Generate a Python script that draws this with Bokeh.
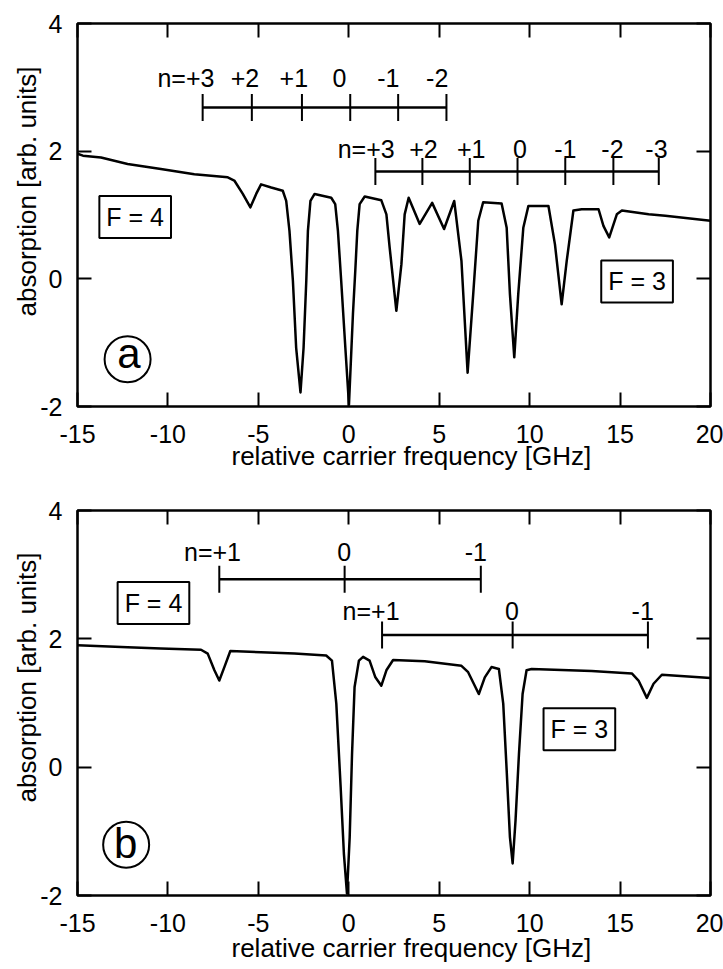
import math
from bokeh.plotting import figure
from bokeh.models import Range1d, LinearAxis, FixedTicker, Label, Title
from bokeh.layouts import column
from bokeh.embed import file_html
from bokeh.resources import INLINE
from bokeh.core.properties import value

FONT = "Liberation Sans"

# ---------------- data: panel (a) ----------------
freq_a = [-15.0, -14.7, -13.7, -12.23, -10.39, -8.54, -6.69, -6.33, -5.86, -5.44,
          -5.12, -4.85, -4.29, -3.65, -3.46, -3.28, -3.09, -2.91, -2.67, -2.50,
          -2.35, -2.26, -2.12, -1.89, -0.97, -0.75, -0.60, -0.42, -0.19, 0.01,
          0.23, 0.36, 0.47, 0.60, 0.88, 1.80, 2.08, 2.26, 2.63, 2.91,
          3.09, 3.31, 3.92, 4.61, 5.27, 5.83, 6.23, 6.57, 6.88, 7.16,
          7.43, 8.45, 8.73, 8.91, 9.15, 9.37, 9.65, 9.93, 11.04, 11.40,
          11.77, 12.05, 12.42, 12.88, 13.81, 14.08, 14.40, 14.82, 15.10, 16.58,
          17.50, 20.0]
abs_a = [1.96, 1.93, 1.90, 1.80, 1.72, 1.64, 1.59, 1.54, 1.33, 1.12,
         1.33, 1.48, 1.43, 1.38, 1.22, 0.75, -0.03, -1.08, -1.78, -1.08,
         -0.03, 0.75, 1.22, 1.33, 1.27, 1.17, 0.75, -0.03, -1.08, -1.97,
         -0.55, 0.13, 0.75, 1.17, 1.29, 1.23, 1.01, 0.49, -0.50, 0.23,
         1.01, 1.27, 0.86, 1.19, 0.78, 1.22, 0.28, -1.47, -0.24, 0.91,
         1.20, 1.18, 0.80, -0.24, -1.23, -0.24, 0.80, 1.14, 1.14, 0.54,
         -0.40, 0.28, 1.07, 1.09, 1.09, 0.83, 0.65, 1.01, 1.07, 1.01,
         0.99, 0.91]

# sideband combs, panel (a)
comb_a_f4 = [-8.08, -5.36, -2.59, 0.08, 2.73, 5.40]
comb_a_f4_labels = ["n=+3", "+2", "+1", "0", "-1", "-2"]
comb_a_f4_label_x = [-7.43, -5.74, -3.04, -0.51, 2.19, 4.89]
comb_a_f3 = [1.47, 4.07, 6.69, 9.33, 11.97, 14.63, 17.14]
comb_a_f3_labels = ["n=+3", "+2", "+1", "0", "-1", "-2", "-3"]
comb_a_f3_label_x = [2.54, 4.13, 6.77, 9.46, 11.97, 14.58, 17.01]

# ---------------- data: panel (b) ----------------
freq_b = [-15.0, -12.23, -10.39, -8.17, -7.80, -7.43, -7.16, -6.88, -6.55, -4.85,
          -3.00, -1.25, -0.93, -0.69, -0.45, -0.27, -0.10, 0.05, 0.18, 0.32,
          0.56, 0.79, 1.15, 1.47, 1.80, 2.08, 2.45, 4.20, 6.23, 6.60,
          7.19, 7.52, 7.89, 8.30, 8.54, 8.73, 8.91, 9.06, 9.22, 9.41,
          9.61, 9.83, 10.11, 13.43, 15.65, 16.02, 16.48, 16.85, 17.31, 20.0]
abs_b = [1.90, 1.87, 1.85, 1.83, 1.77, 1.51, 1.35, 1.56, 1.81, 1.79,
         1.77, 1.74, 1.66, 0.99, -0.31, -1.35, -1.97, -1.09, 0.21, 1.25,
         1.66, 1.72, 1.66, 1.40, 1.27, 1.51, 1.67, 1.65, 1.58, 1.48,
         1.14, 1.40, 1.56, 1.53, 0.99, -0.05, -1.09, -1.50, -0.83, 0.21,
         1.14, 1.51, 1.53, 1.50, 1.46, 1.35, 1.08, 1.30, 1.44, 1.39]

comb_b_f4 = [-7.16, -0.23, 7.30]
comb_b_f4_labels = ["n=+1", "0", "-1"]
comb_b_f4_label_x = [-5.96, -0.25, 7.02]
comb_b_f3 = [1.84, 9.06, 16.54]
comb_b_f3_labels = ["n=+1", "0", "-1"]
comb_b_f3_label_x = [2.81, 9.02, 16.25]

x_ticks = [-15, -10, -5, 0, 5, 10, 15, 20]
x_tick_labels = ["-15", "-10", "-5", "0", "5", "10", "15", "20"]
y_ticks = [-2, 0, 2, 4]
y_tick_labels = ["-2", "0", "2", "4"]

X_TITLE = "relative carrier frequency [GHz]"
Y_TITLE = "absorption [arb. units]"


def style_axis(ax, ticks, labels, show_labels, standoff):
    ax.ticker = FixedTicker(ticks=ticks)
    ax.axis_line_color = None
    ax.major_tick_in = 14
    ax.major_tick_out = 0
    ax.major_tick_line_width = 2
    ax.major_tick_line_color = "black"
    ax.minor_tick_line_color = None
    ax.major_label_standoff = standoff
    if show_labels:
        ax.major_label_overrides = {t: s for t, s in zip(ticks, labels)}
        ax.major_label_text_font = FONT
        ax.major_label_text_font_size = "25px"
        ax.major_label_text_color = "black"
    else:
        ax.major_label_text_font_size = "0px"
        ax.major_label_text_color = None


def draw_comb(p, ticks, labels, label_x, bar_y, label_y):
    p.segment(x0=[ticks[0]], y0=[bar_y], x1=[ticks[-1]], y1=[bar_y],
              line_color="black", line_width=2.5)
    p.scatter(x=ticks, y=[bar_y] * len(ticks), marker="dash", angle=math.pi / 2,
              size=27, line_color="black", line_width=2)
    p.text(x=label_x[:1], y=[label_y], text=labels[:1], text_align="right",
           text_baseline="middle", text_font=value(FONT), text_font_size="25px",
           text_color="black")
    p.text(x=label_x[1:], y=[label_y] * (len(labels) - 1), text=labels[1:],
           text_align="center", text_baseline="middle", text_font=value(FONT),
           text_font_size="25px", text_color="black")


def make_panel(freq, absorb, height, top, bottom, combs, boxes, tag, ytitle_offset,
               xtitle_standoff):
    p = figure(width=723, height=height, x_range=Range1d(-15, 20), y_range=Range1d(-2, 4),
               output_backend="svg", toolbar_location=None,
               min_border_left=77, min_border_right=13,
               min_border_top=top, min_border_bottom=bottom)
    p.xgrid.grid_line_color = None
    p.ygrid.grid_line_color = None
    p.outline_line_color = "black"
    p.outline_line_width = 2.5
    p.background_fill_color = "white"
    p.border_fill_color = "white"

    style_axis(p.xaxis[0], x_ticks, x_tick_labels, True, 18)
    style_axis(p.yaxis[0], y_ticks, y_tick_labels, True, 15)
    top_ax = LinearAxis()
    right_ax = LinearAxis()
    style_axis(top_ax, x_ticks, x_tick_labels, False, 0)
    style_axis(right_ax, y_ticks, y_tick_labels, False, 0)
    p.add_layout(top_ax, "above")
    p.add_layout(right_ax, "right")

    # axis titles as side-panel titles (positioned off-centre as in the original)
    p.add_layout(Title(text=X_TITLE, align="left", offset=154, vertical_align="top",
                       standoff=xtitle_standoff, text_font=FONT, text_font_size="26px",
                       text_font_style="normal", text_color="black"), "below")
    p.add_layout(Title(text=Y_TITLE, align="left", offset=ytitle_offset,
                       vertical_align="bottom", standoff=-8, text_font=FONT,
                       text_font_size="26px", text_font_style="normal",
                       text_color="black"), "left")

    p.line(freq, absorb, line_color="black", line_width=2.5, line_join="round")

    for c in combs:
        draw_comb(p, *c)

    for (bx, by, btxt) in boxes:
        p.add_layout(Label(x=bx, y=by, text=btxt, text_align="center", text_baseline="middle",
                           text_font=FONT, text_font_size="25px", text_color="black",
                           border_line_color="black", border_line_width=2,
                           background_fill_color="white", padding=7))

    cx, cy, letter, lx, ly = tag
    p.scatter(x=[cx], y=[cy], marker="circle", size=46, fill_color=None,
              line_color="black", line_width=2)
    p.text(x=[lx], y=[ly], text=[letter], text_align="center", text_baseline="middle",
           text_font=value(FONT), text_font_size="42px", text_color="black")
    return p


pa = make_panel(freq_a, abs_a, 485, 23, 79,
                [(comb_a_f4, comb_a_f4_labels, comb_a_f4_label_x, 2.685, 3.14),
                 (comb_a_f3, comb_a_f3_labels, comb_a_f3_label_x, 1.68, 2.03)],
                [(-11.81, 0.97, "F = 4"), (15.94, -0.04, "F = 3")],
                (-12.23, -1.26, "a", -12.15, -1.17), 90, -10)

pb = make_panel(freq_b, abs_b, 484, 25, 74,
                [(comb_b_f4, comb_b_f4_labels, comb_b_f4_label_x, 2.93, 3.35),
                 (comb_b_f3, comb_b_f3_labels, comb_b_f3_label_x, 2.06, 2.44)],
                [(-10.80, 2.56, "F = 4"), (12.75, 0.59, "F = 3")],
                (-12.31, -1.21, "b", -12.33, -1.19), 93, -4)

layout = column(pa, pb)
open("out.html", "w").write(file_html(layout, INLINE))
